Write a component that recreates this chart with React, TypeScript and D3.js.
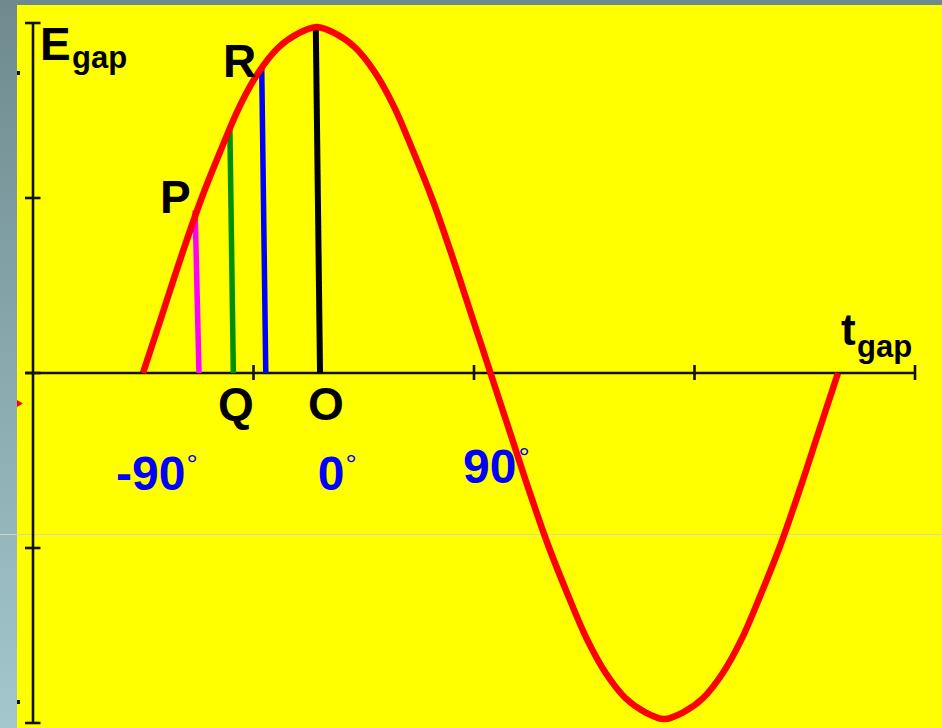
import React from "react";
import * as d3 from "d3";

// Phase samples (degrees) and the gap voltage read at each one
const phases = [
  -90, -80, -70, -60, -50, -40, -30, -20, -10, 0, 10, 20, 30, 40, 50, 60, 70, 80, 90,
  100, 110, 120, 130, 140, 150, 160, 170, 180, 190, 200, 210, 220, 230, 240, 250, 260, 270,
];
const voltages = [
  0, 0.17, 0.34, 0.5, 0.64, 0.77, 0.87, 0.94, 0.98, 1, 0.98, 0.94, 0.87, 0.77, 0.64, 0.5, 0.34, 0.17, 0,
  -0.17, -0.34, -0.5, -0.64, -0.77, -0.87, -0.94, -0.98, -1, -0.98, -0.94, -0.87, -0.77, -0.64, -0.5, -0.34, -0.17, 0,
];

// Marker lines dropped from the curve to the time axis
const markerNames = ["P", "Q", "R", "O"];
const markerTopPhase = [-63, -45, -28.5, -0.5];
const markerBottomPhase = [-61, -43.2, -26.4, 1.7];
const markerLevel = [0.47, 0.71, 0.88, 1.0];
const markerColors = ["#ff00ff", "#009000", "#0000ff", "#000000"];

// Phase tick labels
const phaseLabels = ["-90", "0", "90"];
const phaseLabelAt = [-90, 0, 90];

// Axis grid steps
const axisXSteps = [0, 1, 2, 3, 4];
const axisYSteps = [-2, -1, 0, 1, 2];

const W = 942;
const H = 728;
const FONT = "'Liberation Sans', Arial, Helvetica, sans-serif";

export default function App() {
  const x = d3.scaleLinear().domain([-90, 270]).range([143, 838]);
  const y = d3.scaleLinear().domain([-1, 1]).range([719, 27]);
  const ax = d3.scaleLinear().domain([0, 4]).range([33, 915]);
  const ay = d3.scaleLinear().domain([-2, 2]).range([723, 23]);

  const pts: [number, number][] = phases.map((p, i) => [p, voltages[i]]);
  const line = d3
    .line<[number, number]>()
    .x((d) => x(d[0]))
    .y((d) => y(d[1]))
    .curve(d3.curveCatmullRom.alpha(0.5));

  const y0 = ay(0);

  // label layout (offsets from the phase position / baseline)
  const phaseLabelDx = [-27, 1, -27.5];
  const phaseLabelY = [490, 490, 483];

  const letterPos: Record<string, [number, number]> = {
    P: [160, 213],
    Q: [218, 420],
    R: [223, 77],
    O: [308, 420],
  };

  return (
    <svg
      width={W}
      height={H}
      viewBox={`0 0 ${W} ${H}`}
      style={{ position: "fixed", left: 0, top: 0, display: "block" }}
    >
      <defs>
        <linearGradient id="frame" x1="0" y1="0" x2="0" y2="1">
          <stop offset="0" stopColor="#6e8a8e" />
          <stop offset="1" stopColor="#a3c7cd" />
        </linearGradient>
      </defs>
      <rect x={0} y={0} width={W} height={H} fill="url(#frame)" />
      <rect x={17} y={5} width={W - 17} height={H - 5} fill="#ffff00" />

      {/* faint rule across the slide */}
      <line x1={0} x2={W} y1={534.5} y2={534.5} stroke="#cfd6c6" strokeWidth={1} />

      {/* small edge marks */}
      <rect x={17} y={71} width={3} height={4} fill="#111" />
      <rect x={17} y={700} width={3} height={4} fill="#111" />
      <path d="M17,400 L23,403.5 L17,407 Z" fill="#ff0000" />

      {/* axes */}
      <g stroke="#111" strokeWidth={2.6} fill="none">
        <line x1={ax(0)} x2={ax(0)} y1={ay(2)} y2={ay(-2)} />
        <line x1={ax(0) - 8} x2={ax(4)} y1={y0} y2={y0} />
        {axisYSteps.map((s) => (
          <line key={"yt" + s} x1={ax(0) - 8} x2={ax(0) + 7.5} y1={ay(s)} y2={ay(s)} />
        ))}
        {axisXSteps
          .filter((s) => s > 0)
          .map((s) => (
            <line key={"xt" + s} x1={ax(s)} x2={ax(s)} y1={y0 - 8} y2={y0 + 7} />
          ))}
      </g>

      {/* marker lines */}
      {markerNames.map((n, i) => (
        <line
          key={"m" + n}
          x1={x(markerTopPhase[i])}
          y1={y(markerLevel[i])}
          x2={x(markerBottomPhase[i])}
          y2={y(0)}
          stroke={markerColors[i]}
          strokeWidth={i === 3 ? 6 : 5.5}
        />
      ))}

      {/* gap voltage curve */}
      <path d={line(pts) ?? ""} fill="none" stroke="#ff0000" strokeWidth={6.5} strokeLinejoin="round" />

      {/* axis titles */}
      <text x={40} y={60} fontFamily={FONT} fontWeight="bold" fontSize={46} fill="#000">
        E
      </text>
      <text x={72} y={68} fontFamily={FONT} fontWeight="bold" fontSize={31} fill="#000">
        gap
      </text>
      <text x={841} y={345} fontFamily={FONT} fontWeight="bold" fontSize={44} fill="#000">
        t
      </text>
      <text x={857} y={357} fontFamily={FONT} fontWeight="bold" fontSize={31} fill="#000">
        gap
      </text>

      {/* point letters */}
      {markerNames.map((n) => (
        <text
          key={"l" + n}
          x={letterPos[n][0]}
          y={letterPos[n][1]}
          fontFamily={FONT}
          fontWeight="bold"
          fontSize={46}
          fill="#000"
        >
          {n}
        </text>
      ))}

      {/* phase labels */}
      {phaseLabels.map((t, i) => (
        <text
          key={"p" + t}
          x={x(phaseLabelAt[i]) + phaseLabelDx[i]}
          y={phaseLabelY[i]}
          fontFamily={FONT}
          fontWeight="bold"
          fontSize={48}
          fill="#0000ff"
        >
          {t}
          <tspan dx={i === 2 ? 2 : 1} dy={-16} fontSize={28} fontWeight="normal">
            °
          </tspan>
        </text>
      ))}
    </svg>
  );
}
